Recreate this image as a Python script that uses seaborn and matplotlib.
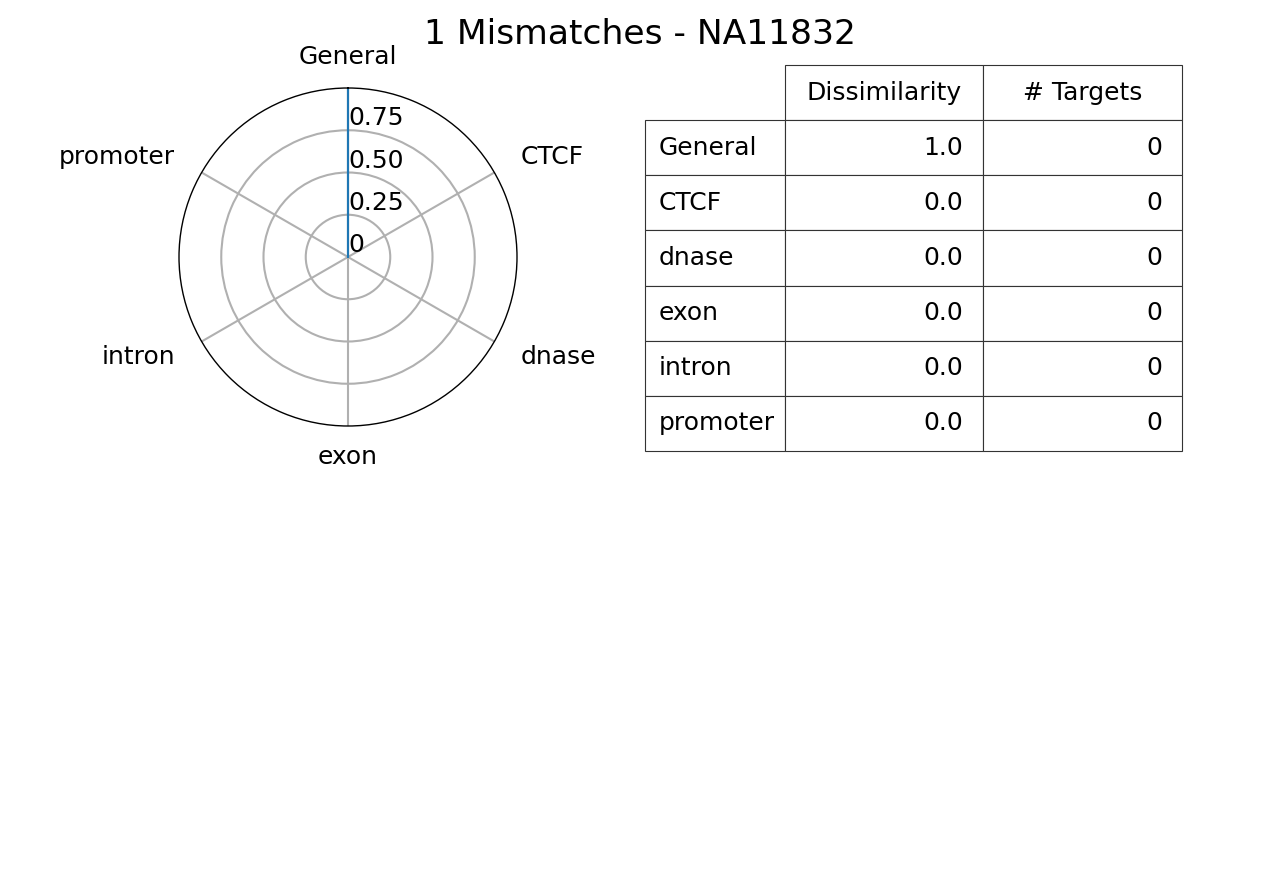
import numpy as np
import matplotlib
matplotlib.use("Agg")
import matplotlib.pyplot as plt
import seaborn as sns
from matplotlib.table import Table

sns.set_context("talk")
plt.rcParams["font.family"] = ["DejaVu Sans"]

categories = ["General", "CTCF", "dnase", "exon", "intron", "promoter"]
dissimilarity = [1.0, 0.0, 0.0, 0.0, 0.0, 0.0]
n_targets = [0, 0, 0, 0, 0, 0]
col_labels = ["Dissimilarity", "# Targets"]
r_ticks = [0, 0.25, 0.5, 0.75]
r_tick_labels = ["0", "0.25", "0.50", "0.75"]
title = "1 Mismatches - NA11832"

fig = plt.figure(figsize=(12.8, 8.8), dpi=100)
fig.patch.set_facecolor("white")

# ---- radar chart ----
ax = fig.add_axes([179 / 1280, 1 - 426 / 880, 338 / 1280, 338 / 880], projection="polar")
n = len(categories)
angles = np.linspace(0, 2 * np.pi, n, endpoint=False)
theta = np.concatenate([angles, angles[:1]])
vals = np.concatenate([dissimilarity, dissimilarity[:1]])
ax.set_theta_offset(np.pi / 2)
ax.set_theta_direction(-1)
sns.lineplot(x=theta, y=vals, ax=ax, color="#1f77b4", linewidth=1.5, sort=False,
             estimator=None)
ax.set_ylim(0, 1)
ax.set_xticks(angles)
ax.set_xticklabels(categories, fontsize=18)
ax.tick_params(axis="x", pad=6)
for lbl, a in zip(ax.get_xticklabels(), angles):
    s = np.sin(a)
    if abs(s) < 1e-6:
        lbl.set_ha("center")
    elif s > 0:
        lbl.set_ha("left")
    else:
        lbl.set_ha("right")
ax.set_yticks(r_ticks)
ax.set_yticklabels(r_tick_labels, fontsize=18)
ax.set_rlabel_position(0)
for lbl in ax.get_yticklabels():
    lbl.set_ha("left")
    lbl.set_va("bottom")
ax.grid(True, color="#b0b0b0", linewidth=1.5)
ax.spines["polar"].set_color("black")
ax.spines["polar"].set_linewidth(1.0)
ax.set_xlabel("")
ax.set_ylabel("")

# ---- table ----
tax = fig.add_axes([645 / 1280, 1 - 451 / 880, 537 / 1280, 386 / 880])
tax.axis("off")
tb = Table(tax, bbox=[0, 0, 1, 1])
widths = [140, 198, 199]
nrows = len(categories) + 1
h = 1.0 / nrows
tot = sum(widths)
w = [x / tot for x in widths]
for j, lab in enumerate(col_labels):
    tb.add_cell(0, j + 1, w[j + 1], h, text=lab, loc="center")
for i, cat in enumerate(categories):
    tb.add_cell(i + 1, 0, w[0], h, text=cat, loc="left")
    tb.add_cell(i + 1, 1, w[1], h, text=f"{dissimilarity[i]:.1f}", loc="right")
    tb.add_cell(i + 1, 2, w[2], h, text=f"{n_targets[i]}", loc="right")
tb.auto_set_font_size(False)
tb.set_fontsize(18)
for cell in tb.get_celld().values():
    cell.set_edgecolor("#333333")
    cell.set_linewidth(0.8)
tax.add_table(tb)

fig.suptitle(title, fontsize=24.8, y=0.980, va="top")

fig.savefig("out.png", dpi=100, facecolor="white")
